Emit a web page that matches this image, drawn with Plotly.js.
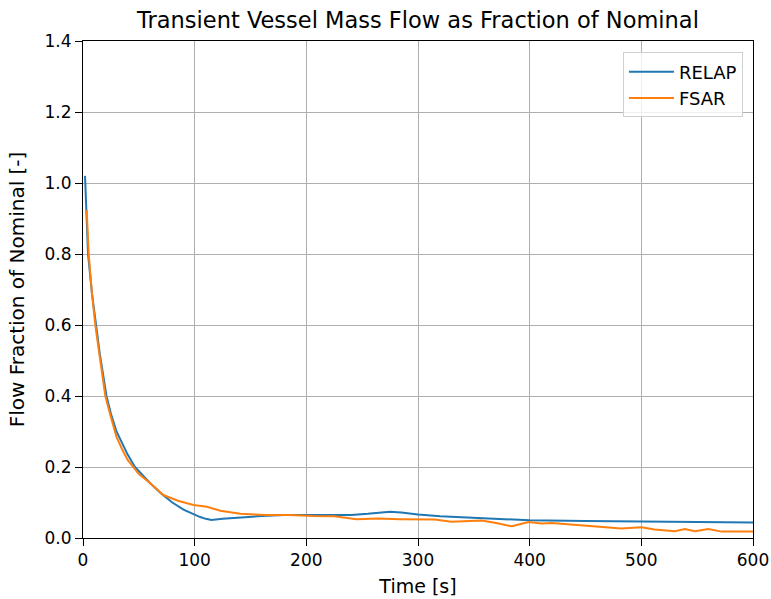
<!DOCTYPE html>
<html><head><meta charset="utf-8">
<script src="https://cdn.plot.ly/plotly-3.0.1.min.js"></script>
<style>body{margin:0;background:#fff}#c{width:771px;height:599px}</style>
</head><body><div id="c"></div>
<script>
const relapT = [1.8, 3, 4.5, 8, 11.4, 15, 21, 25, 30, 35, 40, 46.5, 55, 60, 70, 80, 90, 100, 105, 110, 115, 125, 140, 160, 180, 200, 220, 240, 255, 265, 275, 285, 300, 320, 345, 370, 400, 450, 500, 550, 600];
const relapY = [1.02, 0.9, 0.8, 0.69, 0.6, 0.52, 0.4, 0.35, 0.3, 0.265, 0.235, 0.2, 0.17, 0.155, 0.125, 0.1, 0.08, 0.065, 0.059, 0.054, 0.051, 0.054, 0.058, 0.062, 0.065, 0.065, 0.065, 0.065, 0.068, 0.072, 0.074, 0.072, 0.066, 0.061, 0.057, 0.054, 0.050, 0.048, 0.046, 0.045, 0.044];
const fsarT = [3.3, 5.1, 8, 11, 15, 20, 25, 30, 35, 40, 50, 60, 72, 85, 99, 111, 123, 141, 164, 185, 206, 225, 245, 264, 284, 302, 315, 330, 357, 370, 384, 399, 411, 420, 435, 458, 482, 500, 512, 530, 539, 548, 560, 572, 600];
const fsarY = [0.924, 0.8, 0.69, 0.6, 0.51, 0.4, 0.34, 0.285, 0.25, 0.22, 0.18, 0.155, 0.121, 0.105, 0.093, 0.088, 0.077, 0.068, 0.065, 0.065, 0.062, 0.061, 0.053, 0.055, 0.053, 0.053, 0.052, 0.046, 0.049, 0.042, 0.033, 0.045, 0.041, 0.042, 0.038, 0.032, 0.027, 0.030, 0.024, 0.019, 0.025, 0.019, 0.025, 0.018, 0.018];
const xTicks = [0, 100, 200, 300, 400, 500, 600];
const yTicks = [0.0, 0.2, 0.4, 0.6, 0.8, 1.0, 1.2, 1.4];

const fam = 'DejaVu Sans, sans-serif';
const tickFont = {family: fam, size: 17, color: '#000'};
const axis = {
  showline: true, linecolor: '#000', linewidth: 1, mirror: true,
  ticks: 'outside', ticklen: 7, tickcolor: '#000', tickwidth: 1,
  showgrid: true, gridcolor: '#b0b0b0', gridwidth: 1, zeroline: false,
  tickfont: tickFont
};
Plotly.newPlot('c', [
  {x: relapT, y: relapY, mode: 'lines', name: 'RELAP', line: {color: '#1f77b4', width: 2}},
  {x: fsarT, y: fsarY, mode: 'lines', name: 'FSAR', line: {color: '#ff7f0e', width: 2}}
], {
  width: 771, height: 599,
  margin: {l: 83, r: 18, t: 41, b: 61},
  paper_bgcolor: '#fff', plot_bgcolor: '#fff',
  font: tickFont,
  title: {text: 'Transient Vessel Mass Flow as Fraction of Nominal', font: {family: fam, size: 22.5, color: '#000'}, xref: 'paper', x: 0.5, xanchor: 'center', y: 0.966, yanchor: 'middle'},
  xaxis: Object.assign({}, axis, {range: [0, 600], tickvals: xTicks, ticktext: xTicks.map(String), title: {text: 'Time [s]', font: {family: fam, size: 19, color: '#000'}, standoff: 10}}),
  yaxis: Object.assign({}, axis, {range: [0, 1.4], tickvals: yTicks, ticktext: yTicks.map(v => v.toFixed(1)), title: {text: 'Flow Fraction of Nominal [-]', font: {family: fam, size: 20, color: '#000'}, standoff: 14}}),
  legend: {x: 0.985, y: 0.977, xanchor: 'right', yanchor: 'top', bgcolor: 'rgba(255,255,255,0.8)', bordercolor: '#d0d0d0', borderwidth: 1, itemwidth: 45, font: {family: fam, size: 18, color: '#000'}},
  showlegend: true
}, {displayModeBar: false, staticPlot: true});
</script>
</body></html>
